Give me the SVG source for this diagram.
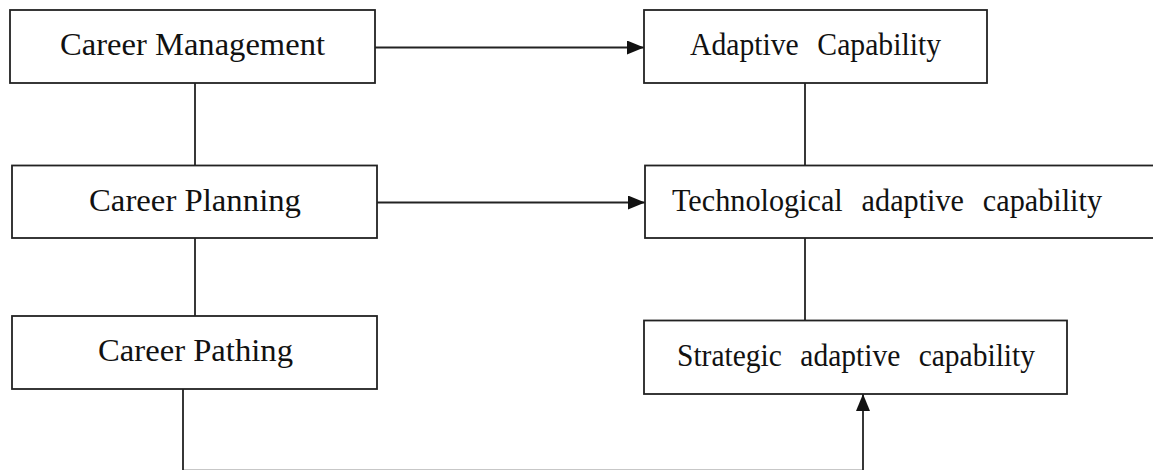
<svg xmlns="http://www.w3.org/2000/svg" width="1153" height="470" viewBox="0 0 1153 470">
  <defs>
    <style>
      .box { fill: #ffffff; stroke: #222222; stroke-width: 1.8; }
      .lbl { font-family: "Liberation Serif", "Times New Roman", serif; font-size: 32px; fill: #111111; }
      .wide { word-spacing: 12px; }
      .conn { fill: none; stroke: #222222; stroke-width: 1.8; }
    </style>
    <marker id="arrow" markerUnits="userSpaceOnUse" markerWidth="17" markerHeight="14" refX="17" refY="7" orient="auto">
      <path d="M0,0 L17,7 L0,14 z" fill="#111111"/>
    </marker>
  </defs>
  <rect width="1153" height="470" fill="#ffffff"/>

  <g id="connectors">
    <line class="conn" x1="195" y1="83" x2="195" y2="165.5"/>
    <line class="conn" x1="195" y1="238" x2="195" y2="316"/>
    <line class="conn" x1="375" y1="47.5" x2="644" y2="47.5" marker-end="url(#arrow)"/>
    <line class="conn" x1="377" y1="202.5" x2="645" y2="202.5" marker-end="url(#arrow)"/>
    <line class="conn" x1="805" y1="83" x2="805" y2="165.5"/>
    <line class="conn" x1="805" y1="238" x2="805" y2="320.5"/>
    <path class="conn" d="M183,389 L183,470.7 L863,470.7 L863,394" marker-end="url(#arrow)"/>
  </g>

  <g id="career-management">
    <rect class="box" x="10" y="10" width="365" height="73"/>
    <text class="lbl" x="60" y="55" textLength="265" lengthAdjust="spacingAndGlyphs">Career Management</text>
  </g>
  <g id="career-planning">
    <rect class="box" x="12" y="165.5" width="365" height="72.5"/>
    <text class="lbl" x="89" y="211" textLength="212" lengthAdjust="spacingAndGlyphs">Career Planning</text>
  </g>
  <g id="career-pathing">
    <rect class="box" x="12" y="316" width="365" height="73"/>
    <text class="lbl" x="98" y="361" textLength="195" lengthAdjust="spacingAndGlyphs">Career Pathing</text>
  </g>
  <g id="adaptive-capability">
    <rect class="box" x="644" y="10" width="343" height="73"/>
    <text class="lbl wide" x="690" y="55" textLength="251" lengthAdjust="spacingAndGlyphs">Adaptive Capability</text>
  </g>
  <g id="technological-adaptive-capability">
    <rect class="box" x="645" y="165.5" width="520" height="72.5"/>
    <text class="lbl wide" x="672" y="211" textLength="430" lengthAdjust="spacingAndGlyphs">Technological adaptive capability</text>
  </g>
  <g id="strategic-adaptive-capability">
    <rect class="box" x="644" y="320.5" width="423" height="73.5"/>
    <text class="lbl wide" x="677" y="366" textLength="358" lengthAdjust="spacingAndGlyphs">Strategic adaptive capability</text>
  </g>
</svg>
